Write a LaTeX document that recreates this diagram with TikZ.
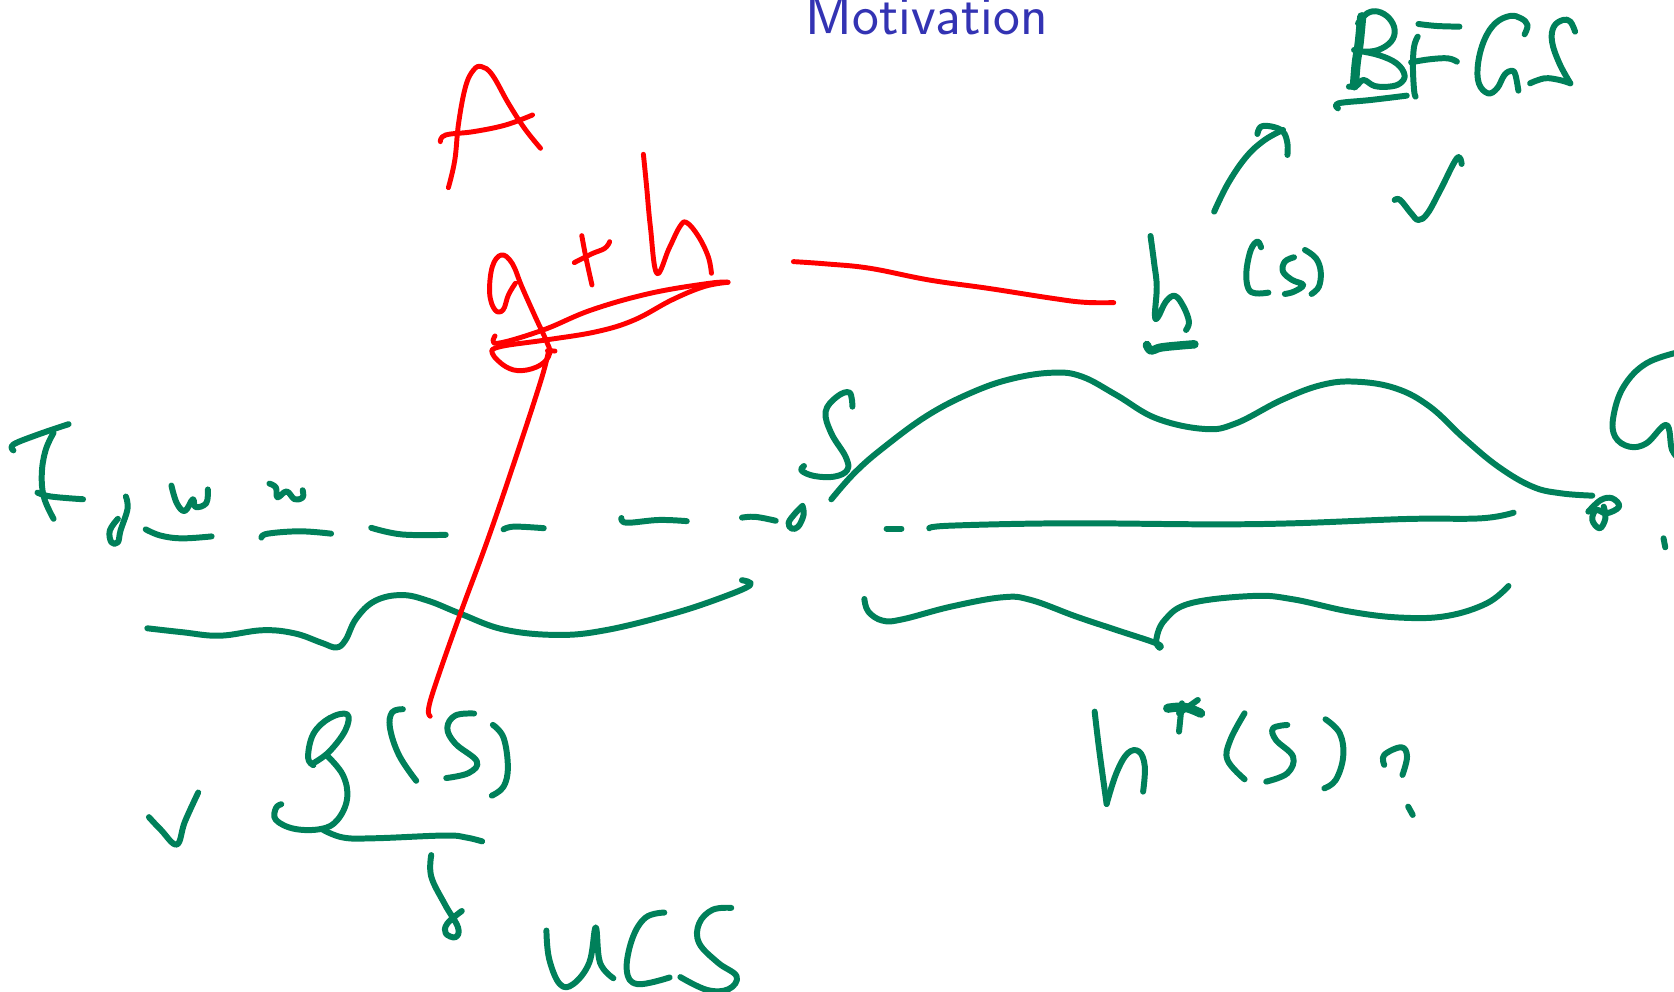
\documentclass[tikz,border=0pt]{standalone}
\usepackage{tikz}
\definecolor{penGreen}{RGB}{0,128,90}
\definecolor{titleBlue}{RGB}{51,51,179}
\tikzset{
  grn/.style={draw=penGreen,line width=1.7pt,line cap=round,line join=round},
  rd/.style={draw=red,line width=1.4pt,line cap=round,line join=round},
  zoomA/.style={shift={(0,380)},xscale=.5357,yscale=.391},
  zoomB/.style={shift={(420,0)},xscale=.5357,yscale=.3333},
  zoomC/.style={shift={(1100,0)},xscale=.366,yscale=.3333},
  zoomD/.style={shift={(780,350)},xscale=.57,yscale=.3333}
}
\begin{document}
\begin{tikzpicture}[x=0.01cm,y=-0.01cm,tension=.65]
\useasboundingbox (0,0) rectangle (1674,992);
\node[anchor=base west,inner sep=0pt,text=titleBlue,font=\fontsize{16.2}{18}\selectfont\sffamily] (title) at (805,35) {Motivation};
% left half
\begin{scope}[zoomA]
\draw[grn] plot[smooth] coordinates {(25,180) (25,165) (70,140) (128,113)};
\draw[grn] plot[smooth] coordinates {(100,135) (85,180) (78,240) (82,300) (100,355)};
\draw[grn] plot[smooth] coordinates {(70,288) (95,298) (155,305)};
\draw[grn] plot[smooth] coordinates {(235,298) (238,330) (225,385) (220,415) (208,415) (205,385) (220,355)};
\draw[grn] plot[smooth] coordinates {(320,270) (330,315) (345,335) (360,305) (365,325) (385,315) (388,280)};
\draw[grn] plot[smooth] coordinates {(503,265) (515,275) (518,300) (535,285) (550,305) (565,300) (565,282)};
\draw[grn] plot[smooth] coordinates {(272,382) (300,398) (340,405) (395,400)};
\draw[grn] plot[smooth] coordinates {(488,403) (500,393) (560,387) (618,393)};
\draw[grn] plot[smooth] coordinates {(693,378) (750,395) (832,396)};
\draw[grn] plot[smooth] coordinates {(940,382) (960,375) (1015,379)};
\draw[grn] plot[smooth] coordinates {(1160,353) (1170,365) (1230,358) (1282,361)};
\draw[grn] plot[smooth] coordinates {(1385,352) (1410,350) (1448,360)};
\draw[grn] plot[smooth] coordinates {(1498,322) (1485,340) (1472,365) (1478,380) (1490,375) (1500,345) (1498,322)};
\draw[grn] plot[smooth] coordinates {(275,635) (340,645) (410,654) (490,640) (550,648) (600,672) (628,684) (645,665) (665,610) (700,565) (750,550) (800,565) (860,598) (940,638) (1040,652) (1130,640) (1250,600) (1340,560) (1400,525) (1385,512)};
\draw[rd] plot[smooth] coordinates {(1036,-74) (1022,-75)};
\draw[rd] plot[smooth] coordinates {(1024,-75) (1010,0) (960,210) (910,410) (860,595) (815,770) (800,840) (803,860)};
% g(s)
\draw[grn] plot[smooth] coordinates {(585,985) (575,965) (585,905) (615,865) (648,855) (645,895) (615,950) (585,980)};
\draw[grn] plot[smooth] coordinates {(610,960) (640,1010) (648,1070) (630,1125) (600,1148) (550,1148) (515,1125) (515,1095) (525,1085)};
\draw[grn] plot[smooth] coordinates {(600,1148) (640,1170) (700,1172) (830,1165) (870,1170) (900,1180)};
\draw[grn] plot[smooth] coordinates {(752,842) (732,850) (728,890) (745,960) (777,1025)};
\draw[grn] plot[smooth] coordinates {(885,853) (850,858) (835,890) (850,930) (890,975) (875,1005) (833,1018)};
\draw[grn] plot[smooth] coordinates {(920,882) (940,915) (948,990) (940,1040) (918,1063)};
\draw[grn] plot[smooth] coordinates {(278,1118) (300,1150) (330,1188) (345,1130) (370,1055)};
\draw[grn] plot[smooth] coordinates {(805,1215) (805,1270) (830,1340) (855,1400) (850,1425) (832,1415) (835,1390) (862,1358)};
% UCS
\draw[grn] plot[smooth] coordinates {(1020,1408) (1025,1480) (1045,1545) (1070,1545) (1100,1490) (1112,1400) (1120,1490) (1145,1530)};
\draw[grn] plot[smooth] coordinates {(1240,1362) (1205,1375) (1180,1430) (1170,1510) (1190,1545) (1250,1528)};
\draw[grn] plot[smooth] coordinates {(1365,1350) (1330,1355) (1305,1390) (1305,1440) (1340,1490) (1375,1525) (1360,1558) (1320,1560) (1270,1527)};
\end{scope}
% red A, g+h
\begin{scope}[zoomB]
\draw[rd] plot[smooth] coordinates {(53,563) (65,480) (72,370) (85,260) (100,210) (115,200) (135,225) (165,310) (195,385) (225,445)};
\draw[rd] plot[smooth] coordinates {(38,425) (48,405) (100,395) (160,375) (210,345)};
\draw[rd] plot[smooth] coordinates {(417,463) (423,560) (430,680) (442,820) (465,745) (485,680) (498,668) (520,710) (538,770) (544,820)};
\draw[rd] plot[smooth] coordinates {(302,707) (310,775) (321,855)};
\draw[rd] plot[smooth] coordinates {(288,788) (320,762) (345,745) (354,725)};
\draw[rd] plot[smooth] coordinates {(178,850) (165,885) (155,930) (140,930) (130,880) (135,800) (152,765) (172,790) (190,860) (215,950) (235,1020) (242,1060) (225,1095) (190,1112) (160,1100) (135,1060) (150,1040) (235,1020) (330,995) (400,960) (470,900) (530,860) (575,847)};
\draw[rd] plot[smooth] coordinates {(575,847) (540,850) (430,880) (320,930) (230,990) (145,1030) (140,1008)};
\draw[rd] plot[smooth] coordinates {(697,785) (760,792) (840,805) (950,840) (1060,865) (1180,895) (1240,907) (1295,908)};
\end{scope}
% BFGS, h(s)
\begin{scope}[zoomC]
\draw[grn] plot[smooth] coordinates {(138,708) (148,790) (155,860) (150,945) (158,952) (180,905) (205,888) (228,920) (243,965) (235,990)};
\draw[grn,line width=2.4pt] plot[smooth] coordinates {(128,1035) (140,1052) (170,1042) (258,1033)};
\draw[grn] plot[smooth] coordinates {(440,742) (430,725) (412,750) (400,815) (405,865) (425,880) (460,878)};
\draw[grn] plot[smooth] coordinates {(530,772) (505,785) (500,815) (525,840) (555,855) (530,875) (505,882)};
\draw[grn] plot[smooth] coordinates {(560,750) (590,775) (603,815) (598,860) (578,882)};
\draw[grn] plot[smooth] coordinates {(312,635) (350,550) (400,470) (450,420) (500,390)};
\draw[grn] plot[smooth] coordinates {(430,402) (440,380) (470,380) (500,395) (512,430) (512,465)};
\draw[grn] plot[smooth] coordinates {(805,600) (820,600) (850,640) (870,660) (895,640) (930,570) (975,475) (988,492)};
\draw[grn,line width=2.6pt] plot[smooth] coordinates {(715,50) (708,130) (700,190) (695,258)};
\draw[grn] plot[smooth] coordinates {(705,70) (730,40) (760,35) (790,55) (805,90) (795,125) (760,150) (720,155) (695,150) (760,165) (810,190) (832,225) (820,250) (790,260) (750,258) (720,240) (700,258) (680,260)};
\draw[grn] plot[smooth] coordinates {(650,325) (652,310) (740,300) (838,287)};
\draw[grn] plot[smooth] coordinates {(870,72) (920,78) (982,80)};
\draw[grn] plot[smooth] coordinates {(868,110) (858,140) (855,200) (858,270) (862,290)};
\draw[grn] plot[smooth] coordinates {(850,187) (900,178) (950,175) (975,185)};
\draw[grn] plot[smooth] coordinates {(1160,103) (1168,75) (1150,55) (1120,48) (1080,70) (1050,120) (1033,190) (1035,250) (1060,280) (1085,265) (1105,225) (1125,212) (1135,225) (1143,272)};
\draw[grn] plot[smooth] coordinates {(1298,95) (1285,65) (1265,60) (1240,80) (1235,125) (1255,190) (1285,250)};
\draw[grn] plot[smooth] coordinates {(1285,250) (1255,240) (1215,235) (1175,250)};
\end{scope}
% right half
\begin{scope}[zoomD]
\draw[grn] plot[smooth] coordinates {(127,170) (122,128) (100,140) (80,185) (90,250) (115,320) (118,360) (95,380) (60,378) (38,362) (42,348)};
\draw[grn] plot[smooth] coordinates {(90,448) (130,370) (180,295) (260,195) (340,125) (410,85) (480,68) (530,80) (590,135) (660,205) (745,237) (800,220) (880,150) (950,105) (1010,95) (1080,115) (1140,170) (1200,265) (1260,350) (1320,410) (1370,430) (1425,437)};
\draw[grn] plot[smooth] coordinates {(1418,485) (1440,450) (1460,445) (1472,470) (1450,490) (1432,480) (1425,510) (1438,535) (1448,505) (1445,470)};
\draw[grn] plot[smooth] coordinates {(187,536) (213,536)};
\draw[grn] plot[smooth] coordinates {(262,535) (300,527) (500,520) (750,523) (900,520) (1100,507) (1230,505) (1287,488)};
\draw[grn] plot[smooth] coordinates {(148,747) (155,785) (180,812) (215,808) (300,770) (390,742) (440,750) (520,800) (590,840) (660,880) (666,893)};
\draw[grn] plot[smooth] coordinates {(666,893) (660,870) (675,810) (720,760) (830,738) (900,748) (1000,785) (1090,803) (1170,798) (1240,760) (1278,708)};
% h*(s)?
\draw[grn] plot[smooth] coordinates {(552,1085) (560,1200) (573,1362)};
\draw[grn] plot[smooth] coordinates {(573,1362) (590,1270) (610,1210) (630,1205) (640,1250) (637,1325)};
\draw[grn] plot[smooth] coordinates {(700,1145) (705,1060)};
\draw[grn,line width=2.6pt] plot[smooth] coordinates {(680,1075) (710,1072) (738,1090)};
\draw[grn] plot[smooth] coordinates {(700,1090) (733,1050)};
\draw[grn] plot[smooth] coordinates {(815,1090) (790,1170) (785,1230) (815,1288)};
\draw[grn] plot[smooth] coordinates {(890,1125) (865,1135) (870,1170) (900,1220) (890,1270) (853,1295)};
\draw[grn] plot[smooth] coordinates {(957,1108) (982,1150) (988,1220) (975,1290) (955,1315)};
\draw[grn] plot[smooth] coordinates {(1060,1245) (1060,1215) (1090,1192) (1100,1220) (1092,1275)};
\draw[grn] plot[smooth] coordinates {(1102,1370) (1110,1395)};
% cut off at the edge
\draw[grn] plot[smooth] coordinates {(1580,5) (1520,40) (1480,110) (1462,200) (1465,260) (1490,290) (1520,280) (1555,225) (1565,300) (1580,330)};
\draw[grn] plot[smooth] coordinates {(1550,565) (1553,592)};
\end{scope}
\end{tikzpicture}
\end{document}
